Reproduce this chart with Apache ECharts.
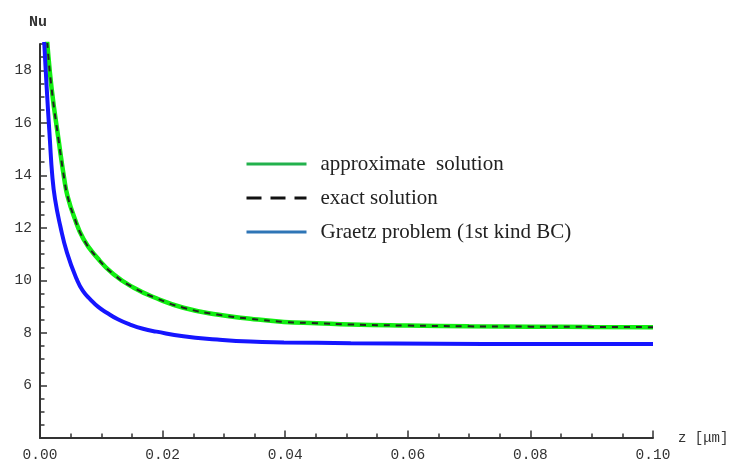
<!DOCTYPE html>
<html>
<head>
<meta charset="utf-8">
<script src="https://cdn.jsdelivr.net/npm/echarts@6/dist/echarts.min.js"></script>
<style>
  html, body { margin: 0; padding: 0; background: #fff; }
  #chart { width: 734px; height: 466px; }
</style>
</head>
<body>
<div id="chart"></div>
<script>
// values (z in μm, Nu); first point lies above the plot and is clipped
const approxZ = [0.0009, 0.0012, 0.0019, 0.003, 0.004, 0.0045, 0.0055, 0.0071, 0.0093, 0.012, 0.0153, 0.019, 0.0234, 0.0289, 0.0343, 0.0398, 0.0452, 0.0507, 0.06, 0.07, 0.08, 0.09, 0.1];
const approxNu = [20.0, 19.0, 17.3, 15.4, 13.8, 13.2, 12.46, 11.57, 10.87, 10.23, 9.72, 9.32, 8.96, 8.7, 8.54, 8.42, 8.37, 8.32, 8.28, 8.25, 8.24, 8.23, 8.22];
const exactZ = [0.0009, 0.0012, 0.0019, 0.003, 0.004, 0.0045, 0.0055, 0.0071, 0.0093, 0.012, 0.0153, 0.019, 0.0234, 0.0289, 0.0343, 0.0398, 0.0452, 0.0507, 0.06, 0.07, 0.08, 0.09, 0.1];
const exactNu = [20.0, 19.0, 17.3, 15.4, 13.8, 13.2, 12.46, 11.57, 10.87, 10.23, 9.72, 9.32, 8.96, 8.7, 8.54, 8.42, 8.37, 8.32, 8.28, 8.25, 8.24, 8.23, 8.22];
const graetzZ = [0.0004, 0.0007, 0.0011, 0.0016, 0.002, 0.00245, 0.0033, 0.0044, 0.006, 0.007, 0.0082, 0.0095, 0.0109, 0.0127, 0.0147, 0.0168, 0.019, 0.0234, 0.0289, 0.0343, 0.0398, 0.0507, 0.065, 0.08, 0.1];
const graetzNu = [20.2, 19.0, 17.3, 15.4, 14.0, 13.1, 12.08, 11.06, 10.04, 9.6, 9.28, 8.99, 8.77, 8.52, 8.32, 8.16, 8.05, 7.87, 7.75, 7.67, 7.64, 7.61, 7.59, 7.58, 7.58];

const seriesNames = ['approximate  solution', 'exact solution', 'Graetz problem (1st kind BC)'];
const xTicks = [0, 0.02, 0.04, 0.06, 0.08, 0.10];
const yTicks = [6, 8, 10, 12, 14, 16, 18];

const pairs = (xs, ys) => xs.map((x, i) => [x, ys[i]]);

const chart = echarts.init(document.getElementById('chart'));

const axisCol = '#333';
const tickFont = { fontFamily: 'Liberation Mono', fontSize: 14.5, color: '#333' };
const noMark = { color: 'rgba(0,0,0,0)', borderWidth: 0 };

const option = {
  animation: false,
  backgroundColor: '#fff',
  grid: { left: 40, right: 81, top: 44, bottom: 28 },
  xAxis: [
    {
      type: 'value', min: 0, max: 0.1, interval: 0.005, position: 'bottom',
      axisLine: { lineStyle: { color: axisCol, width: 2 } },
      axisTick: { inside: true, length: 4.5, lineStyle: { color: axisCol, width: 1.5 } },
      axisLabel: { show: false },
      splitLine: { show: false }
    },
    {
      type: 'value', min: 0, max: 0.1, interval: 0.02, position: 'bottom',
      name: 'z [μm]', nameLocation: 'end', nameGap: 25,
      nameTextStyle: { fontFamily: 'Liberation Mono', fontSize: 14, color: '#333', padding: [0, 0, 16, 0] },
      axisLine: { show: false },
      axisTick: { inside: true, length: 7.5, lineStyle: { color: axisCol, width: 1.5 } },
      axisLabel: {
        margin: 10, ...tickFont,
        formatter: v => xTicks.some(t => Math.abs(t - v) < 1e-9) ? v.toFixed(2) : ''
      },
      splitLine: { show: false }
    }
  ],
  yAxis: [
    {
      type: 'value', min: 4, max: 19, interval: 0.5, position: 'left',
      axisLine: { show: true, lineStyle: { color: axisCol, width: 2 } },
      axisTick: { show: true, inside: true, length: 4.5, lineStyle: { color: axisCol, width: 1.5 } },
      axisLabel: { show: false },
      splitLine: { show: false }
    },
    {
      type: 'value', min: 4, max: 19, interval: 2, position: 'left',
      name: 'Nu', nameLocation: 'end', nameGap: 14,
      nameTextStyle: { fontFamily: 'Liberation Mono', fontSize: 15, fontWeight: 'bold', color: '#333', padding: [0, 4, 0, 0] },
      axisLine: { show: false },
      axisTick: { show: true, inside: true, length: 7, lineStyle: { color: axisCol, width: 1.5 } },
      axisLabel: {
        margin: 8, ...tickFont,
        formatter: v => yTicks.indexOf(v) >= 0 ? String(v) : ''
      },
      splitLine: { show: false }
    }
  ],
  legend: {
    orient: 'vertical', left: 245, top: 151, padding: 0,
    itemWidth: 60, itemHeight: 16, itemGap: 8,
    textStyle: { fontFamily: 'Liberation Serif', fontSize: 21, lineHeight: 22, color: '#222', padding: [0, 0, 4, 9] },
    data: [
      { name: seriesNames[0], itemStyle: noMark, lineStyle: { color: '#22b14c', width: 3, type: 'solid' } },
      { name: seriesNames[1], itemStyle: noMark, lineStyle: { color: '#111', width: 3, type: [15, 9] } },
      { name: seriesNames[2], itemStyle: noMark, lineStyle: { color: '#2e75b6', width: 3, type: 'solid' } }
    ]
  },
  series: [
    {
      name: seriesNames[0], type: 'line', smooth: 0.5, symbol: 'none',
      data: pairs(approxZ, approxNu),
      lineStyle: { color: '#11ee11', width: 4.5 }, itemStyle: { color: '#11ee11' }
    },
    {
      name: seriesNames[1], type: 'line', smooth: 0.5, symbol: 'none',
      data: pairs(exactZ, exactNu),
      lineStyle: { color: '#222', width: 2, type: [6, 6] }, itemStyle: { color: '#222' }
    },
    {
      name: seriesNames[2], type: 'line', smooth: 0.5, symbol: 'none',
      data: pairs(graetzZ, graetzNu),
      lineStyle: { color: '#1515ff', width: 4 }, itemStyle: { color: '#1515ff' }
    }
  ]
};

chart.setOption(option);
</script>
</body>
</html>
